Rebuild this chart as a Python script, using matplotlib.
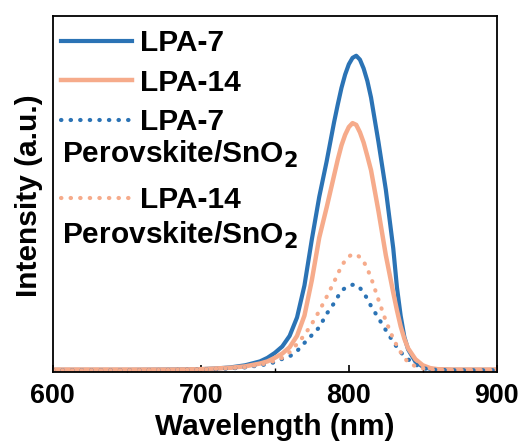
import matplotlib.pyplot as plt
from matplotlib.ticker import MultipleLocator, NullLocator

plt.rcParams['font.family'] = ['Liberation Sans', 'DejaVu Sans']
plt.rcParams['font.weight'] = 'bold'
plt.rcParams['mathtext.default'] = 'bf'

# wavelength grid (nm)
wl = [600, 650, 680, 700, 710, 720, 730, 740, 745, 750, 755, 760, 765, 770,
      775, 780, 785, 790, 792.5, 795, 797.5, 800, 802.5, 805, 807.5, 810,
      812.5, 815, 820, 825, 830, 832.5, 835, 837.5, 840, 845, 850, 855, 860,
      870, 880, 900]

lpa7 = [0.002, 0.002, 0.003, 0.004, 0.006, 0.009, 0.015, 0.026, 0.036, 0.05,
        0.068, 0.098, 0.15, 0.24, 0.37, 0.49, 0.59, 0.70, 0.75, 0.797, 0.835,
        0.864, 0.882, 0.888, 0.877, 0.852, 0.817, 0.77, 0.645, 0.51, 0.345,
        0.235, 0.155, 0.095, 0.06, 0.025, 0.011, 0.005, 0.003, 0.002, 0.002,
        0.002]
lpa14 = [0.003, 0.003, 0.003, 0.004, 0.006, 0.008, 0.012, 0.02, 0.026, 0.036,
         0.048, 0.066, 0.098, 0.155, 0.255, 0.375, 0.46, 0.55, 0.595, 0.635,
         0.665, 0.687, 0.698, 0.693, 0.672, 0.643, 0.605, 0.565, 0.45, 0.325,
         0.22, 0.17, 0.125, 0.09, 0.063, 0.032, 0.015, 0.007, 0.004, 0.003,
         0.003, 0.003]
lpa7_sno2 = [0.001, 0.001, 0.002, 0.003, 0.004, 0.006, 0.009, 0.015, 0.018,
             0.024, 0.033, 0.04, 0.055, 0.078, 0.10, 0.122, 0.16, 0.19, 0.208,
             0.225, 0.233, 0.238, 0.242, 0.242, 0.233, 0.22, 0.202, 0.182,
             0.148, 0.114, 0.081, 0.066, 0.052, 0.041, 0.032, 0.017, 0.007,
             0.003, 0.002, 0.001, 0.001, 0.001]
lpa14_sno2 = [0.001, 0.001, 0.002, 0.003, 0.005, 0.007, 0.01, 0.017, 0.021,
              0.028, 0.036, 0.052, 0.075, 0.10, 0.132, 0.168, 0.208, 0.25,
              0.272, 0.295, 0.31, 0.322, 0.328, 0.327, 0.32, 0.308, 0.287,
              0.262, 0.20, 0.14, 0.09, 0.07, 0.052, 0.036, 0.024, 0.012,
              0.006, 0.003, 0.002, 0.001, 0.001, 0.001]

blue = '#2b73b5'
salmon = '#f6ab8b'
dots = (0, (0.1, 2.2))

fig = plt.figure(figsize=(5.23, 4.45), dpi=100)
ax = fig.add_axes([0.101, 0.164, 0.849, 0.800])

l1, = ax.plot(wl, lpa7, color=blue, lw=3)
l2, = ax.plot(wl, lpa14, color=salmon, lw=3.2)
l3, = ax.plot(wl, lpa7_sno2, color=blue, lw=3, ls=dots, dash_capstyle='round')
l4, = ax.plot(wl, lpa14_sno2, color=salmon, lw=3, ls=dots,
              dash_capstyle='round')

ax.set_xlim(600, 900)
ax.set_ylim(-0.004, 1.0)
ax.xaxis.set_major_locator(MultipleLocator(100))
ax.xaxis.set_minor_locator(MultipleLocator(50))
ax.yaxis.set_major_locator(NullLocator())
ax.tick_params(axis='x', which='major', direction='in', length=5, width=1.2,
               labelsize=19.4, pad=8)
ax.tick_params(axis='x', which='minor', direction='in', length=3, width=1)
for s in ax.spines.values():
    s.set_linewidth(1.3)

ax.set_xlabel('Wavelength (nm)', fontsize=21.5, fontweight='bold', labelpad=3)
ax.set_ylabel('Intensity (a.u.)', fontsize=21.5, fontweight='bold')
ax.yaxis.set_label_coords(-0.022, 0.495)

leg_kw = dict(frameon=False, fontsize=21.5, handlelength=2.37,
              handletextpad=0.27, borderpad=0, borderaxespad=0,
              labelspacing=0.385)
leg1 = ax.legend([l1, l2, l3], ['LPA-7', 'LPA-14', 'LPA-7'], loc='upper left',
                 bbox_to_anchor=(0.018, 0.963), **leg_kw)
ax.add_artist(leg1)
ax.legend([l4], ['LPA-14'], loc='upper left', bbox_to_anchor=(0.018, 0.522),
          **leg_kw)
ax.text(0.02, 0.61, 'Perovskite/SnO$_2$', transform=ax.transAxes,
        fontsize=21.5, fontweight='bold', va='center')
ax.text(0.02, 0.385, 'Perovskite/SnO$_2$', transform=ax.transAxes,
        fontsize=21.5, fontweight='bold', va='center')

fig.savefig('out.png', dpi=100)
